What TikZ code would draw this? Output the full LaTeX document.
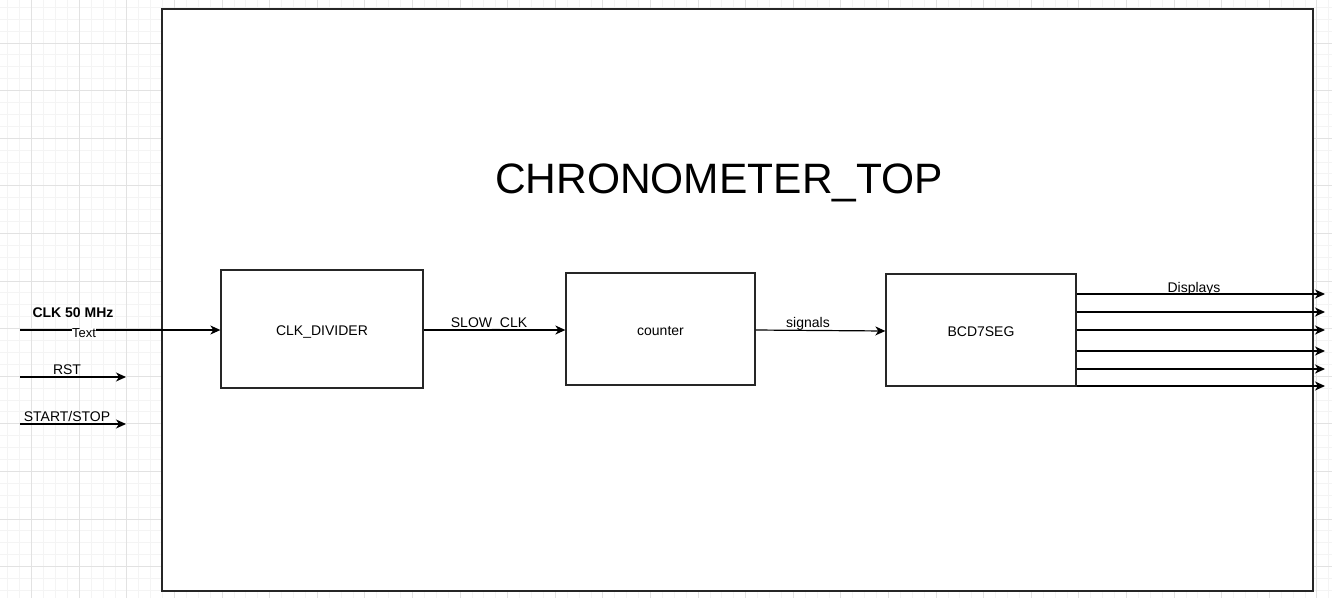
\documentclass[tikz,border=0pt]{standalone}
\usepackage{fontspec}
\setmainfont{Liberation Sans}
\usetikzlibrary{arrows.meta}
\definecolor{gridminor}{HTML}{F4F4F4}
\definecolor{gridmajor}{HTML}{E2E2E2}
\definecolor{edge}{HTML}{262626}
\tikzset{
  blockbox/.style={draw=edge, line width=1.3pt, fill=white, inner sep=0pt,
    text height=14pt, text depth=2pt, font=\fontsize{14}{16}\selectfont},
  arr/.style={draw=black, line width=1.2pt, -{Stealth[length=10pt,width=9pt,inset=3pt]}},
  lbl/.style={inner sep=1pt, font=\fontsize{14}{16}\selectfont},
}
\begin{document}
\begin{tikzpicture}[x=1pt,y=-1pt]
\useasboundingbox (0,0) rectangle (1332,598);
\fill[white] (0,0) rectangle (1332,598);
% grid
\foreach \i in {0,...,111} {
  \pgfmathsetmacro{\gx}{7.9+11.9*\i}
  \draw[gridminor, line width=1pt] (\gx,0) -- (\gx,598);
}
\foreach \i in {0,...,50} {
  \pgfmathsetmacro{\gy}{7.3+11.9*\i}
  \draw[gridminor, line width=1pt] (0,\gy) -- (1332,\gy);
}
\foreach \i in {0,...,27} {
  \pgfmathsetmacro{\gx}{31.7+47.6*\i}
  \draw[gridmajor, line width=1pt] (\gx,0) -- (\gx,598);
}
\foreach \i in {0,...,12} {
  \pgfmathsetmacro{\gy}{43.0+47.6*\i}
  \draw[gridmajor, line width=1pt] (0,\gy) -- (1332,\gy);
}
% outer block
\node[draw=edge, line width=1.4pt, fill=white, minimum width=1151pt, minimum height=582pt, inner sep=0pt]
  (top) at (737.5,300) {};
\node[font=\fontsize{42.5}{48}\selectfont, inner sep=0pt] (title) at (719,183) {CHRONOMETER\_TOP};
% inner blocks
\node[blockbox, minimum width=202pt, minimum height=118pt] (div) at (322,329) {CLK\_DIVIDER};
\node[blockbox, minimum width=189pt, minimum height=112pt] (cnt) at (660.5,329) {counter};
\node[blockbox, minimum width=190pt, minimum height=112pt] (seg) at (981,330) {BCD7SEG};
% inputs
\coordinate (clkin) at (20,330);
\coordinate (rstin) at (20,377);
\coordinate (rstend) at (126,377);
\coordinate (ssin) at (20,424);
\coordinate (ssend) at (126,424);
\draw[arr] (clkin) -- (div.west |- clkin);
\draw[arr] (rstin) -- (rstend);
\draw[arr] (ssin) -- (ssend);
\node[font=\bfseries\fontsize{14}{16}\selectfont, inner sep=1pt] (clklbl) at (73,312.5) {CLK 50 MHz};
\node[fill=white, inner sep=0.5pt, font=\fontsize{13}{15}\selectfont] (txt) at (84,333) {Text};
\node[lbl] (rstlbl) at (67,370) {RST};
\node[lbl] (sslbl) at (67,416) {START/STOP};
% internal links
\draw[arr] (div.east |- 0,330) -- (cnt.west |- 0,330);
\node[lbl] (slowlbl) at (489,324) {SLOW\_CLK};
\draw[arr] (cnt.east |- 0,330) -- (seg.west |- 0,331);
\node[lbl] (siglbl) at (808,324) {signals};
% outputs
\coordinate (o1) at (1325,294);
\coordinate (o2) at (1325,312);
\coordinate (o3) at (1325,330);
\coordinate (o4) at (1325,351);
\coordinate (o5) at (1325,369);
\coordinate (o6) at (1325,386);
\foreach \o in {o1,o2,o3,o4,o5,o6} {
  \draw[arr] (seg.east |- \o) -- (\o);
}
\node[lbl] (displbl) at (1194,289) {Displays};
\end{tikzpicture}
\end{document}
